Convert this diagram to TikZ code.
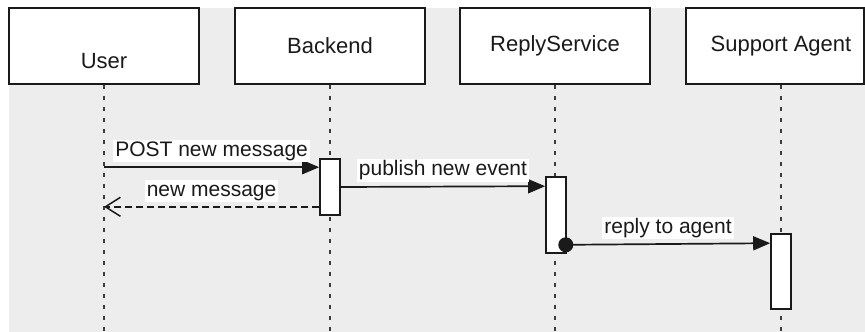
\documentclass[tikz,border=0pt]{standalone}
\usepackage{fontspec}
\setmainfont{Liberation Sans}
\usetikzlibrary{arrows.meta,calc}

\definecolor{canvas}{HTML}{EDEDED}
\definecolor{ink}{HTML}{1A1A1A}

\tikzset{
  header/.style={draw=ink, line width=1.6pt, fill=white, minimum width=190pt,
    minimum height=76pt, inner sep=0pt, text=ink, font=\fontsize{22}{25}\selectfont},
  lifeline/.style={draw=ink!85, line width=1.5pt, dash pattern=on 4.5pt off 6.5pt},
  actbar/.style={draw=ink, line width=1.6pt, fill=white, minimum width=20pt, inner sep=0pt},
  msg/.style={draw=ink, line width=1.7pt, -{Triangle[length=17pt,width=14pt]}},
  reply/.style={draw=ink, line width=1.5pt, dash pattern=on 7pt off 4pt,
    -{Straight Barb[length=15pt,width=19pt,line width=1.5pt]}},
  msglabel/.style={fill=white, text=ink, inner xsep=2pt, inner ysep=1pt,
    text height=15.5pt, text depth=5pt, font=\fontsize{21}{24}\selectfont},
}

\begin{document}
\begin{tikzpicture}[x=1pt, y=-1pt]
  % canvas and backdrop
  \useasboundingbox (0,0) rectangle (865,332);
  \fill[white] (0,0) rectangle (865,332);
  \fill[canvas] (9,8) rectangle (865,332);

  % participants
  \node[header, label={[text=ink, font=\fontsize{22}{25}\selectfont, yshift=-15pt]center:User}] (user) at (104,46) {};
  \node[header] (backend) at (330,46) {Backend};
  \node[header] (rsvc) at (555,46) {ReplyService};
  \node[header, minimum width=178pt] (agent) at (775,46) {};
  \node[text=ink, font=\fontsize{22}{25}\selectfont] (agentname) at (781,46) {Support Agent};

  % lifeline ends
  \coordinate (userend) at (104,332);
  \coordinate (backendend) at (330,332);
  \coordinate (rsvcend) at (555,332);
  \coordinate (agentend) at (781,332);

  \draw[lifeline] (user.south) -- (userend);
  \draw[lifeline] (backend.south) -- (backendend);
  \draw[lifeline] (rsvc.south) -- (rsvcend);
  \draw[lifeline] (agentname |- agent.south) -- (agentend);

  % activation bars
  \node[actbar, minimum height=56pt] (bact) at (330,187) {};
  \node[actbar, minimum height=76pt] (ract) at (556,215) {};
  \node[actbar, minimum height=75pt] (aact) at (781,271.5) {};

  % message anchor points
  \path (bact.north west) ++(0,9) coordinate (postend);
  \path (bact.south west) ++(0,-9) coordinate (backstart);
  \path (ract.north west) ++(0,10) coordinate (pubend);
  \path (ract.south east) ++(-1,-9) coordinate (fwdstart);
  \path (aact.north west) ++(0,10) coordinate (fwdend);

  % messages
  \draw[msg] (user.south |- postend) -- node[msglabel, above=4pt] {POST new message} (postend);
  \draw[reply] (backstart) -- node[msglabel, above=4pt] {new message} (user.south |- backstart);
  \draw[msg] (bact.east) -- node[msglabel, above=4pt] {publish new event} (pubend);
  \draw[msg] (fwdstart) -- node[msglabel, above=4pt] {reply to agent} (fwdend);
  \fill[ink] (fwdstart) circle (7.5pt);
\end{tikzpicture}
\end{document}
